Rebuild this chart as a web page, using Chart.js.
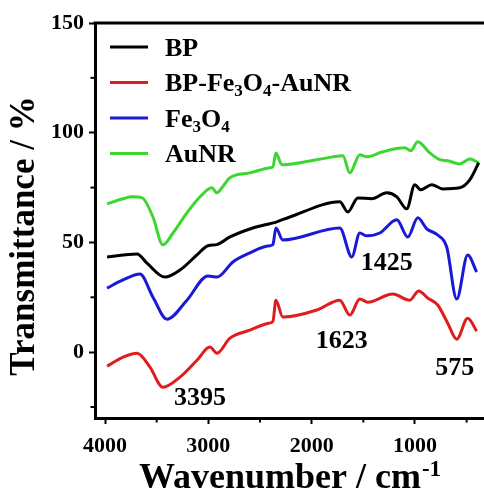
<!DOCTYPE html>
<html>
<head>
<meta charset="utf-8">
<script src="https://cdn.jsdelivr.net/npm/chart.js@4.4.1/dist/chart.umd.min.js"></script>
<style>
  html, body { margin: 0; padding: 0; background: #fff; }
  #wrap { width: 484px; height: 494px; position: relative; }
</style>
</head>
<body>
<div id="wrap"><canvas id="ftirChart"></canvas></div>
<script>
// FTIR spectra, values
const seriesLabels = ["BP", "BP-Fe3O4-AuNR", "Fe3O4", "AuNR"];
const seriesColors = ["#000000", "#e01c1c", "#1a1ad6", "#3ad82e"];

const bpWn = [3980, 3690, 3594, 3420, 3275, 3110, 3004, 2917, 2791, 2569, 2337, 2211, 1728, 1650, 1553, 1418, 1273, 1176, 1080, 1002, 945, 838, 731, 567, 470, 383];
const bpT = [43.4, 44.7, 40.6, 34.2, 37.4, 44.3, 48.5, 49.0, 52.5, 56.6, 59.4, 61.6, 68.5, 63.9, 70.3, 69.9, 72.6, 70.8, 65.3, 76.3, 74.0, 76.3, 74.4, 74.9, 78.5, 86.3];

const compWn = [3980, 3826, 3690, 3565, 3440, 3275, 3110, 2985, 2917, 2791, 2598, 2414, 2375, 2346, 2279, 1950, 1728, 1631, 1534, 1457, 1215, 1051, 964, 877, 780, 683, 596, 490, 403];
const compT = [-6.4, -2.3, -0.5, -6.8, -16.0, -11.4, -3.7, 2.3, -0.5, 6.4, 10.0, 13.2, 14.0, 23.7, 16.0, 19.2, 23.7, 16.9, 24.2, 22.8, 26.5, 23.7, 27.9, 24.7, 21.5, 13.2, 5.9, 15.5, 9.6];

const feWn = [3980, 3826, 3662, 3536, 3400, 3207, 3004, 2917, 2762, 2598, 2424, 2375, 2346, 2279, 1728, 1612, 1534, 1467, 1341, 1176, 1070, 973, 886, 780, 693, 596, 490, 403];
const feT = [29.2, 32.9, 35.6, 25.0, 15.0, 23.7, 34.7, 34.2, 41.1, 45.2, 48.4, 49.0, 56.6, 51.1, 56.6, 43.4, 54.3, 53.0, 54.3, 60.3, 52.5, 61.2, 56.2, 53.4, 47.9, 24.2, 44.3, 36.5];

const auWn = [3980, 3826, 3740, 3640, 3536, 3440, 3342, 3207, 3080, 2966, 2917, 2869, 2791, 2598, 2404, 2375, 2346, 2288, 2114, 1795, 1698, 1631, 1534, 1467, 1312, 1099, 1041, 973, 857, 760, 683, 567, 470, 383];
const auT = [67.6, 69.9, 70.8, 70.3, 61.6, 48.9, 54.3, 63.5, 70.8, 74.9, 72.6, 74.9, 79.5, 81.7, 84.0, 84.5, 90.8, 85.4, 86.3, 89.0, 89.5, 81.7, 90.0, 89.0, 91.3, 93.1, 91.8, 95.9, 90.8, 87.7, 87.2, 85.8, 88.0, 86.3];

const xTicks = [4000, 3000, 2000, 1000];
const xMinor = [3500, 2500, 1500, 500];
const yTicks = [0, 50, 100, 150];
const yMinor = [-25, 25, 75, 125];

// peak labels and where they sit (wavenumber, transmittance)
const peakLabels = ["3395", "1623", "1425", "575"];
const peakWn = [3081, 1708, 1273, 616];
const peakT = [-21, 5, 40.6, -7.3];

const FONT = "'Liberation Serif', 'Times New Roman', serif";

function toPoints(xs, ys) {
  return xs.map((x, i) => ({ x: x, y: ys[i] }));
}

const seriesData = [
  toPoints(bpWn, bpT),
  toPoints(compWn, compT),
  toPoints(feWn, feT),
  toPoints(auWn, auT),
];

// draws text where every digit is a subscript
function drawSubText(ctx, text, x, baseY, size) {
  let cx = x;
  ctx.textAlign = "left";
  ctx.textBaseline = "alphabetic";
  for (const ch of text) {
    const isSub = /[0-9]/.test(ch);
    ctx.font = "bold " + (isSub ? Math.round(size * 0.65) : size) + "px " + FONT;
    const yy = isSub ? baseY + size * 0.2 : baseY;
    ctx.fillText(ch, cx, yy);
    cx += ctx.measureText(ch).width;
  }
}

const decorPlugin = {
  id: "decor",
  afterDraw(chart) {
    const ctx = chart.ctx;
    const area = chart.chartArea;
    const xs = chart.scales.x;
    const ys = chart.scales.y;
    ctx.save();
    ctx.fillStyle = "#000";
    ctx.strokeStyle = "#000";

    // top frame line
    ctx.lineWidth = 3;
    ctx.beginPath();
    ctx.moveTo(area.left - 1.5, area.top);
    ctx.lineTo(area.right, area.top);
    ctx.stroke();

    // minor ticks
    ctx.lineWidth = 2;
    xMinor.forEach((v) => {
      const px = xs.getPixelForValue(v);
      ctx.beginPath();
      ctx.moveTo(px, area.bottom);
      ctx.lineTo(px, area.bottom + 4.5);
      ctx.stroke();
    });
    yMinor.forEach((v) => {
      const py = ys.getPixelForValue(v);
      ctx.beginPath();
      ctx.moveTo(area.left, py);
      ctx.lineTo(area.left - 4.5, py);
      ctx.stroke();
    });

    // legend
    chart.data.datasets.forEach((ds, i) => {
      const y = area.top + 24 + i * 35.5;
      ctx.strokeStyle = ds.borderColor;
      ctx.lineWidth = 3;
      ctx.beginPath();
      ctx.moveTo(110, y);
      ctx.lineTo(148, y);
      ctx.stroke();
      ctx.fillStyle = "#000";
      drawSubText(ctx, ds.label, 165, y + 8.5, 26);
    });

    // peak labels
    ctx.fillStyle = "#000";
    ctx.font = "bold 26px " + FONT;
    ctx.textAlign = "center";
    ctx.textBaseline = "middle";
    peakLabels.forEach((t, i) => {
      ctx.fillText(t, xs.getPixelForValue(peakWn[i]), ys.getPixelForValue(peakT[i]));
    });

    // x title with superscript
    const main = "Wavenumber / cm";
    const sup = "-1";
    ctx.font = "bold 36px " + FONT;
    const wMain = ctx.measureText(main).width;
    ctx.font = "bold 23px " + FONT;
    const wSup = ctx.measureText(sup).width;
    const startX = (area.left + area.right) / 2 - (wMain + wSup) / 2;
    ctx.textAlign = "left";
    ctx.textBaseline = "alphabetic";
    ctx.font = "bold 36px " + FONT;
    ctx.fillText(main, startX, 488);
    ctx.font = "bold 23px " + FONT;
    ctx.fillText(sup, startX + wMain + 1, 476);

    // y title
    ctx.translate(25, 236);
    ctx.rotate(-Math.PI / 2);
    ctx.font = "bold 35px " + FONT;
    ctx.textAlign = "center";
    ctx.textBaseline = "middle";
    ctx.fillText("Transmittance / %", 0, 0);

    ctx.restore();
  },
};

const canvas = document.getElementById("ftirChart");
const ctx = canvas.getContext("2d");

const ftirChart = new Chart(ctx, {
  type: "line",
  data: {
    datasets: seriesLabels.map((label, i) => ({
      label: label,
      data: seriesData[i],
      borderColor: seriesColors[i],
      backgroundColor: seriesColors[i],
      borderWidth: 3,
      pointRadius: 0,
      cubicInterpolationMode: "monotone",
      fill: false,
    })),
  },
  options: {
    responsive: true,
    maintainAspectRatio: false,
    animation: false,
    layout: { padding: { top: 23, right: 0, bottom: 0, left: 0 } },
    plugins: {
      legend: { display: false },
      tooltip: { enabled: false },
    },
    scales: {
      x: {
        type: "linear",
        reverse: true,
        min: 332,
        max: 4097,
        afterBuildTicks: (s) => {
          s.ticks = xTicks.map((v) => ({ value: v }));
        },
        afterFit: (s) => {
          s.height = 76;
        },
        border: { display: true, width: 3, color: "#000" },
        grid: { drawOnChartArea: false, drawTicks: true, tickLength: 6, tickWidth: 2, tickColor: "#000" },
        ticks: {
          color: "#000",
          maxRotation: 0,
          padding: 9,
          callback: (v) => String(v),
          font: { family: FONT, size: 22, weight: "bold" },
        },
      },
      y: {
        min: -30,
        max: 150,
        afterBuildTicks: (s) => {
          s.ticks = yTicks.map((v) => ({ value: v }));
        },
        afterFit: (s) => {
          s.width = 95;
        },
        border: { display: true, width: 3, color: "#000" },
        grid: { drawOnChartArea: false, drawTicks: true, tickLength: 6, tickWidth: 2, tickColor: "#000" },
        ticks: {
          color: "#000",
          padding: 5,
          callback: (v) => String(v),
          font: { family: FONT, size: 22, weight: "bold" },
        },
      },
    },
  },
  plugins: [decorPlugin],
});
</script>
</body>
</html>
